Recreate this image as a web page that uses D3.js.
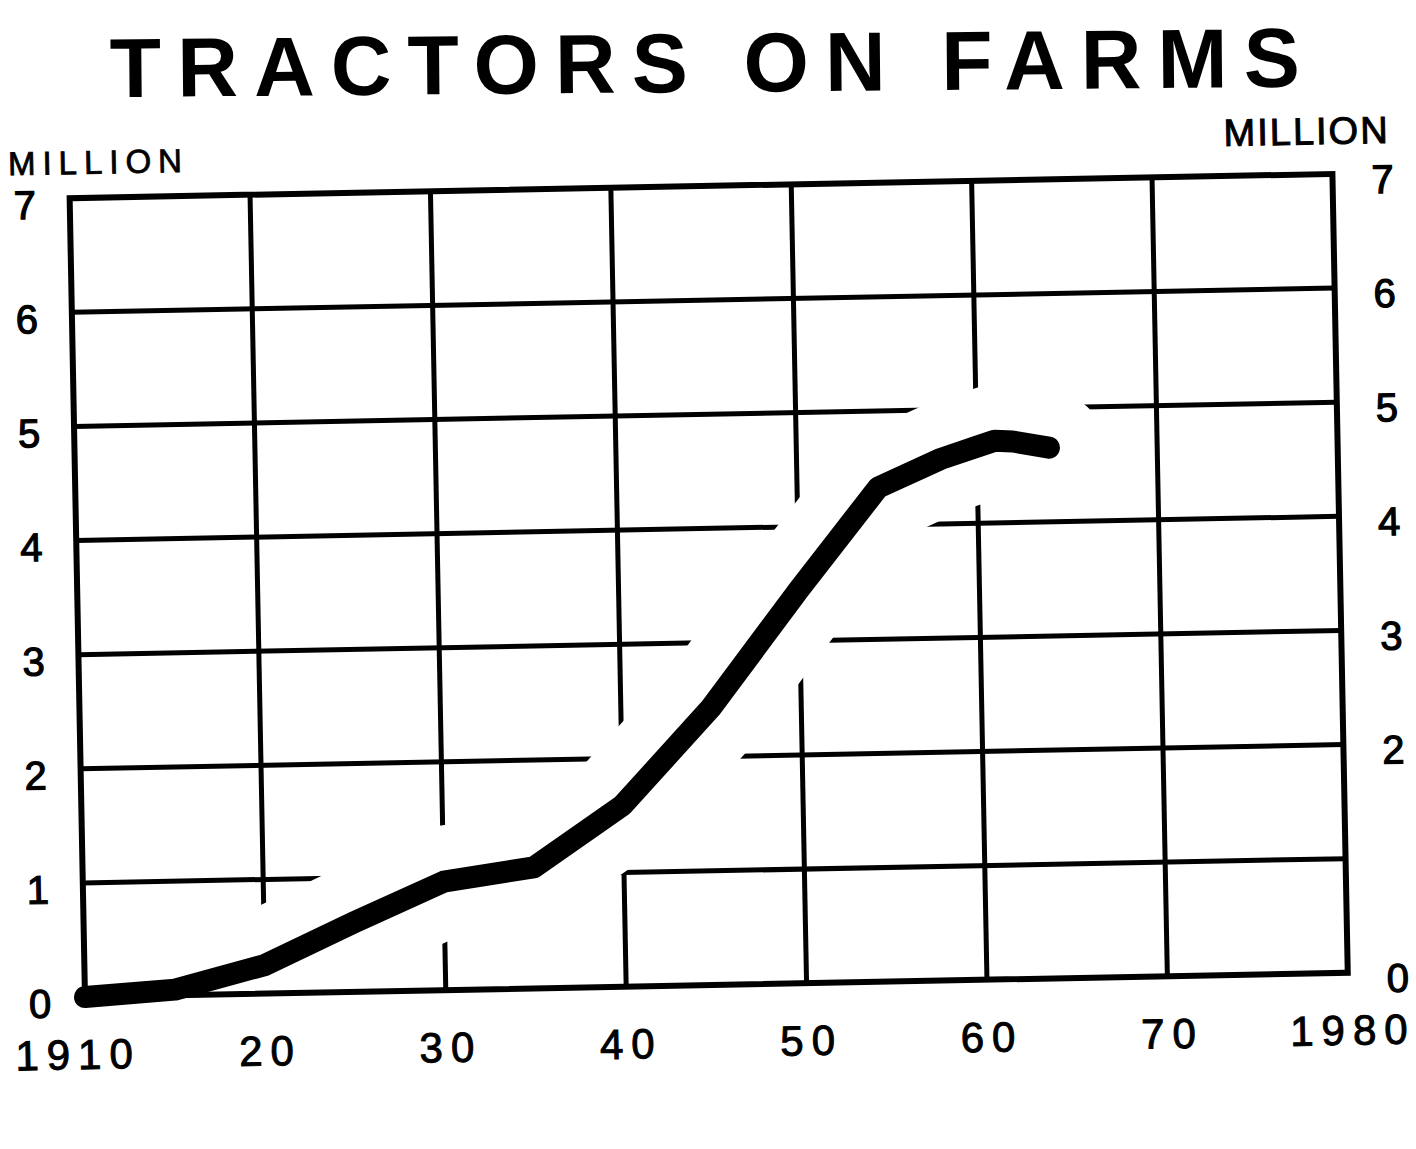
<!DOCTYPE html>
<html lang="en">
<head>
<meta charset="UTF-8">
<script src="https://d3js.org/d3.v7.min.js"></script>
<title>Tractors on Farms</title>
<style>
  body { margin: 0; background: #fff; }
  text { font-family: "Liberation Sans", Arial, sans-serif; fill: #000; }
</style>
</head>
<body>
<div id="chart"></div>
<script>
// data (millions of tractors)
const years    = [1910, 1915, 1920, 1925, 1930, 1935, 1940, 1945, 1950, 1954.5, 1958, 1960, 1961, 1962, 1964];
const tractors = [0, 0.05, 0.25, 0.61, 0.95, 1.06, 1.59, 2.43, 3.45, 4.33, 4.57, 4.67, 4.72, 4.71, 4.65];

const xTicks = [1910, 1920, 1930, 1940, 1950, 1960, 1970, 1980];
const xTickLabels = ["1910", "20", "30", "40", "50", "60", "70", "1980"];
const yTicksLeft = [0, 1, 2, 3, 4, 5, 6, 7];
const yTicksRight = [0, 2, 3, 4, 5, 6, 7];

const width = 1416, height = 1149;

const svg = d3.select("#chart").append("svg")
    .attr("width", width).attr("height", height);
svg.append("rect").attr("width", width).attr("height", height).attr("fill", "#fff");

// the old scan sits a little tilted
const g = svg.append("g").attr("transform", "rotate(-1.1, 708, 575)");

const x = d3.scaleLinear().domain([1910, 1980]).range([77, 1340]);
const y = d3.scaleLinear().domain([0, 7]).range([985, 186]);

// interior grid
g.append("g").selectAll("line")
    .data(xTicks.slice(1, -1))
    .join("line")
    .attr("x1", d => x(d)).attr("x2", d => x(d))
    .attr("y1", y(7)).attr("y2", y(0))
    .attr("stroke", "#000").attr("stroke-width", 5);

g.append("g").selectAll("line")
    .data(yTicksLeft.slice(1, -1))
    .join("line")
    .attr("x1", x(1910)).attr("x2", x(1980))
    .attr("y1", d => y(d)).attr("y2", d => y(d))
    .attr("stroke", "#000").attr("stroke-width", 5);

const line = d3.line()
    .x((d, i) => x(years[i]))
    .y(d => y(d));

// white clearance around the curve, the grid is cut there
g.append("path")
    .attr("d", line(tractors))
    .attr("fill", "none")
    .attr("stroke", "#fff")
    .attr("stroke-width", 112)
    .attr("stroke-linejoin", "round")
    .attr("stroke-linecap", "round");

// frame
g.append("rect")
    .attr("x", x(1910)).attr("y", y(7))
    .attr("width", x(1980) - x(1910)).attr("height", y(0) - y(7))
    .attr("fill", "none").attr("stroke", "#000").attr("stroke-width", 6);

// the curve
g.append("path")
    .attr("d", line(tractors))
    .attr("fill", "none")
    .attr("stroke", "#000")
    .attr("stroke-width", 22)
    .attr("stroke-linejoin", "round")
    .attr("stroke-linecap", "round");

// axis labels
g.append("g").selectAll("text")
    .data(yTicksLeft)
    .join("text")
    .attr("x", 32).attr("y", d => y(d) + 20)
    .attr("text-anchor", "middle")
    .attr("font-size", 40)
    .attr("stroke", "#000").attr("stroke-width", 1.2)
    .text(d => d);

g.append("g").selectAll("text")
    .data(yTicksRight)
    .join("text")
    .attr("x", 1390).attr("y", d => y(d) + 20)
    .attr("text-anchor", "middle")
    .attr("font-size", 40)
    .attr("stroke", "#000").attr("stroke-width", 1.2)
    .text(d => d);

g.append("g").selectAll("text")
    .data(xTicks)
    .join("text")
    .attr("x", (d, i) => x(d) + (i === 0 ? -8 : 4))
    .attr("y", 1057)
    .attr("text-anchor", "middle")
    .attr("font-size", 42)
    .attr("letter-spacing", 8)
    .attr("stroke", "#000").attr("stroke-width", 1)
    .text((d, i) => xTickLabels[i]);

g.append("text")
    .attr("x", 16).attr("y", 162)
    .attr("font-size", 33)
    .attr("letter-spacing", 7)
    .attr("stroke", "#000").attr("stroke-width", 0.8)
    .text("MILLION");

g.append("text")
    .attr("x", 1398).attr("y", 156)
    .attr("text-anchor", "end")
    .attr("font-size", 38)
    .attr("letter-spacing", 2)
    .attr("stroke", "#000").attr("stroke-width", 1)
    .text("MILLION");

// title is tilted a bit less than the plot
svg.append("text")
    .attr("transform", "rotate(-0.5, 705, 92)")
    .attr("x", 705).attr("y", 92)
    .attr("text-anchor", "middle")
    .attr("font-size", 84)
    .attr("font-weight", "bold")
    .attr("textLength", 1190)
    .attr("lengthAdjust", "spacing")
    .text("TRACTORS ON FARMS");
</script>
</body>
</html>
